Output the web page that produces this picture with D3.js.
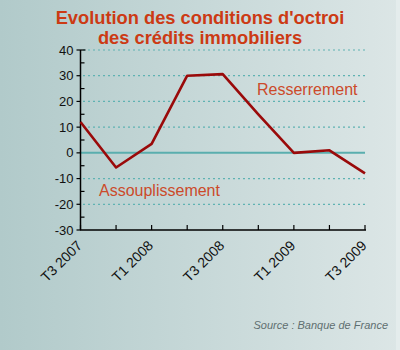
<!DOCTYPE html>
<html>
<head>
<meta charset="utf-8">
<script src="https://cdn.jsdelivr.net/npm/d3@7"></script>
<style>
  html, body { margin: 0; padding: 0; }
  svg { display: block; font-family: Arial, "Liberation Sans", sans-serif; }
</style>
</head>
<body>
<svg id="chart" width="400" height="350"></svg>
<script>
// Quarterly survey balance (Banque de France)
const quarters = ["T3 2007", "T4 2007", "T1 2008", "T2 2008", "T3 2008",
                  "T4 2008", "T1 2009", "T2 2009", "T3 2009"];
const balance = [12, -5.7, 3.5, 30, 30.6, 15, 0, 1, -8];
const tickLabels = ["T3 2007", "T1 2008", "T3 2008", "T1 2009", "T3 2009"];
const yTicks = [-30, -20, -10, 0, 10, 20, 30, 40];
const gridValues = [-20, -10, 10, 20, 30, 40];

const svg = d3.select("#chart");
const W = 400, H = 350;

// Background gradient
const defs = svg.append("defs");
const grad = defs.append("linearGradient").attr("id", "bg")
  .attr("x1", "0%").attr("x2", "100%").attr("y1", "0%").attr("y2", "0%");
grad.append("stop").attr("offset", "0%").attr("stop-color", "#b1caca");
grad.append("stop").attr("offset", "100%").attr("stop-color", "#dce6e6");
svg.append("rect").attr("width", W).attr("height", H).attr("fill", "url(#bg)");
svg.append("rect").attr("x", 396).attr("width", 4).attr("height", H).attr("fill", "#e4ecec");

const x = d3.scalePoint().domain(quarters).range([80.5, 365]);
const y = d3.scaleLinear().domain([-30, 40]).range([230, 50]);

// Title
const title = svg.append("text").attr("text-anchor", "middle")
  .attr("font-size", 18.3).attr("font-weight", "bold").attr("fill", "#cc3a14");
title.append("tspan").attr("x", 200).attr("y", 24).text("Evolution des conditions d'octroi");
title.append("tspan").attr("x", 200).attr("y", 44).text("des crédits immobiliers");

// Dotted gridlines
svg.append("g").selectAll("line").data(gridValues).join("line")
  .attr("x1", 83).attr("x2", 365)
  .attr("y1", d => y(d)).attr("y2", d => y(d))
  .attr("stroke", "#5fb2b2").attr("stroke-width", 1.2)
  .attr("stroke-dasharray", "2,3");

// Zero line
svg.append("line").attr("x1", 81).attr("x2", 365)
  .attr("y1", y(0)).attr("y2", y(0))
  .attr("stroke", "#5aaeae").attr("stroke-width", 2);

// Y axis: major ticks every 10, minor ticks every 5
const yAxis = svg.append("g").attr("transform", "translate(80.5,0)");
yAxis.append("line").attr("y1", y(40)).attr("y2", y(-30)).attr("stroke", "#000").attr("stroke-width", 1.5);
yAxis.selectAll("line.minor").data(d3.range(-25, 40, 10)).join("line").attr("class", "minor")
  .attr("x1", 0).attr("x2", 4).attr("y1", d => y(d)).attr("y2", d => y(d))
  .attr("stroke", "#000").attr("stroke-width", 1.2);
yAxis.selectAll("line.major").data(yTicks).join("line").attr("class", "major")
  .attr("x1", -4).attr("x2", d => d === 40 ? 5 : 0).attr("y1", d => y(d)).attr("y2", d => y(d))
  .attr("stroke", "#000").attr("stroke-width", 1.2);
yAxis.selectAll("text").data(yTicks).join("text")
  .attr("x", -7).attr("y", d => y(d)).attr("dy", "0.35em")
  .attr("text-anchor", "end").attr("font-size", 13).attr("fill", "#111")
  .text(d => d);

// X axis with ticks pointing up
const xAxis = svg.append("g");
xAxis.append("line").attr("x1", 80).attr("x2", 366).attr("y1", 230).attr("y2", 230)
  .attr("stroke", "#000").attr("stroke-width", 1.5);
xAxis.selectAll("line.tick").data(quarters).join("line").attr("class", "tick")
  .attr("x1", d => x(d)).attr("x2", d => x(d)).attr("y1", 230).attr("y2", 225)
  .attr("stroke", "#000").attr("stroke-width", 1.2);
xAxis.selectAll("text").data(tickLabels).join("text")
  .attr("transform", d => `translate(${x(d) - 1},${243}) rotate(-45)`)
  .attr("text-anchor", "end").attr("dy", "0.35em")
  .attr("font-size", 14).attr("fill", "#111")
  .text(d => d);

// Series line
const line = d3.line().x((d, i) => x(quarters[i])).y(d => y(d));
svg.append("path").datum(balance).attr("d", line)
  .attr("fill", "none").attr("stroke", "#9a0a0a").attr("stroke-width", 2.6)
  .attr("stroke-linejoin", "round");

// Annotations
svg.append("text").attr("x", 257).attr("y", 95).attr("font-size", 16)
  .attr("fill", "#cc4a2a").text("Resserrement");
svg.append("text").attr("x", 99).attr("y", 196).attr("font-size", 16)
  .attr("fill", "#cc4a2a").text("Assouplissement");

// Source
svg.append("text").attr("x", 388).attr("y", 329).attr("text-anchor", "end")
  .attr("font-size", 11).attr("font-style", "italic").attr("fill", "#5f6f70")
  .text("Source : Banque de France");
</script>
</body>
</html>
